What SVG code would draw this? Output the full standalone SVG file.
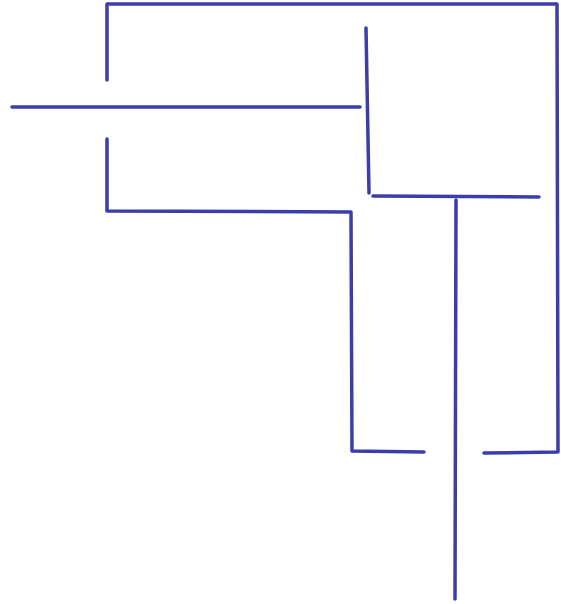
<svg xmlns="http://www.w3.org/2000/svg" width="561" height="604" viewBox="0 0 561 604">
<style>
.w{fill:none;stroke:#3b3daa;stroke-width:3.5;stroke-linecap:round;stroke-linejoin:round}
</style>
<rect width="561" height="604" fill="#ffffff"/>
<g id="maze" class="w">
<path d="M107,80 L107,4 L557,4 L558,452 L484,453"/>
<path d="M12,107 L360,107"/>
<path d="M107,139 L107,211 L351,212 L352,451 L424,452"/>
<path d="M366,28 L369,193"/>
<path d="M373,196 L539,197"/>
<path d="M456,200 L455,599"/>
</g>
</svg>
